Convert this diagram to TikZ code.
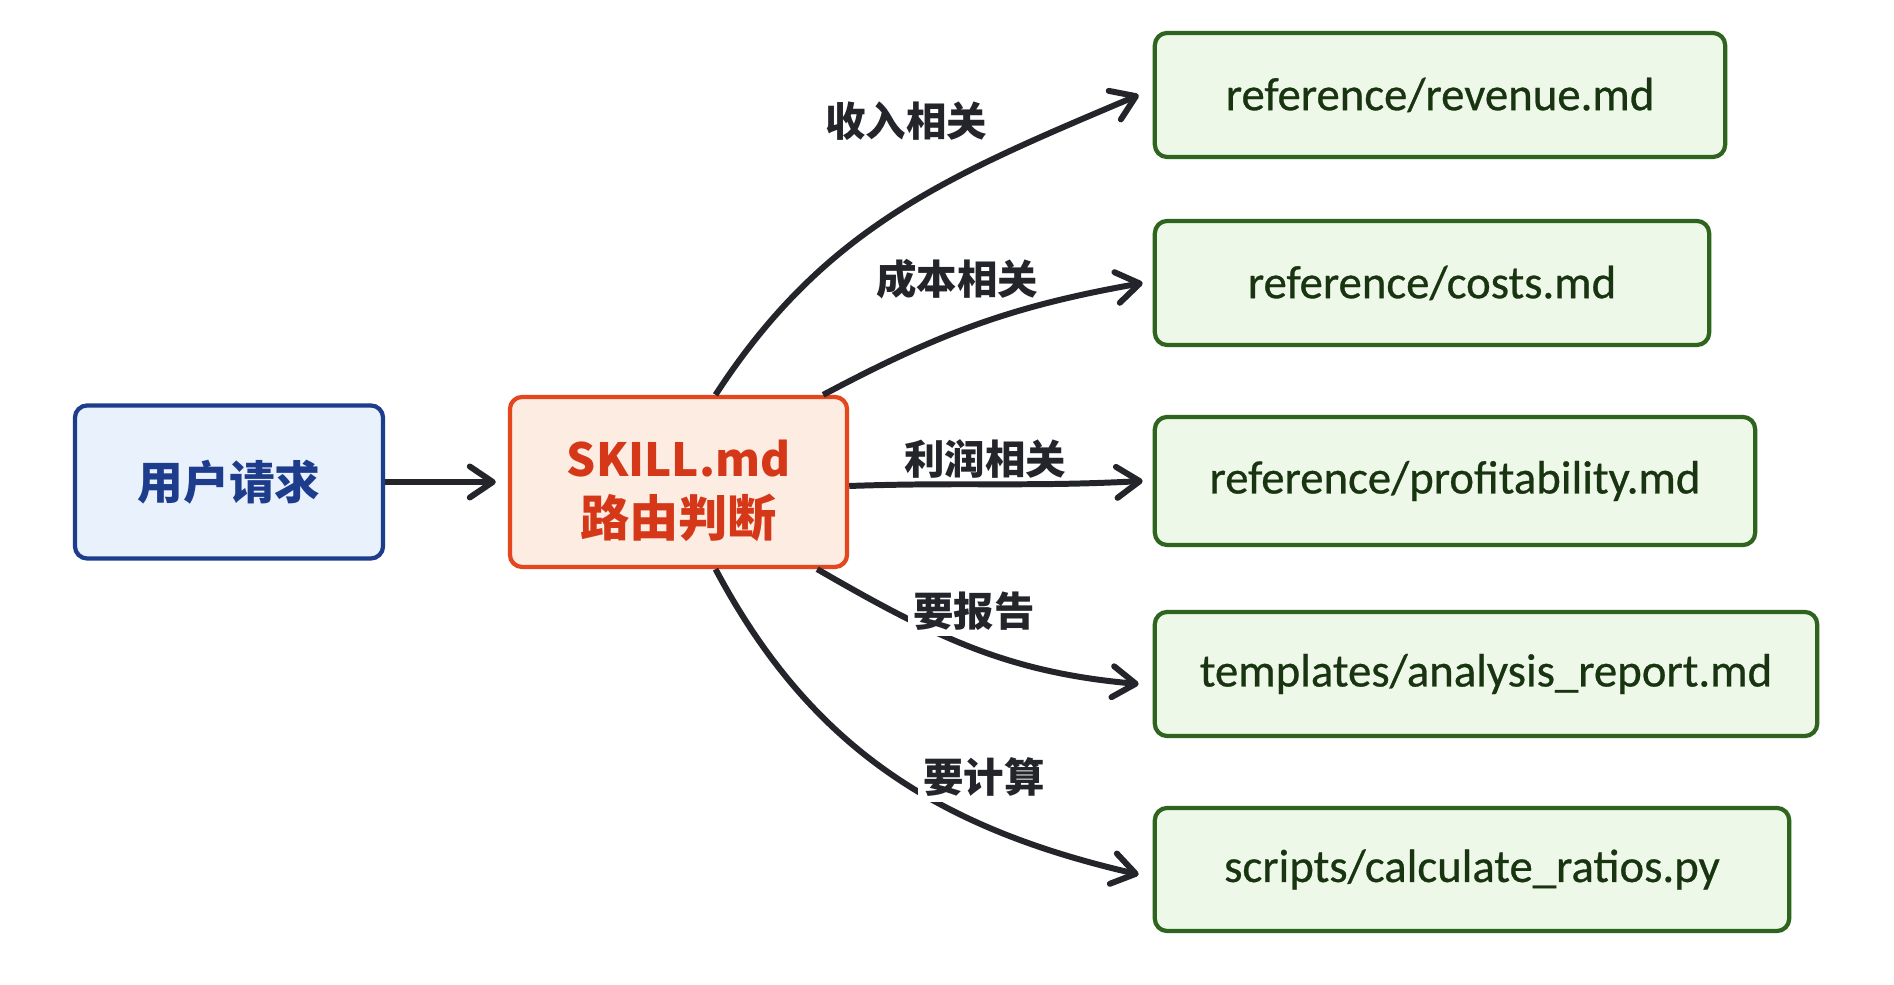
\documentclass[tikz,border=0pt]{standalone}
\usepackage{fontspec}
\setmainfont{Noto Sans CJK SC}
\newfontfamily\filefont{Carlito}[FakeBold=0.6]
\usetikzlibrary{arrows.meta}
\definecolor{userblue}{RGB}{30, 60, 140}
\definecolor{userfill}{RGB}{233, 241, 252}
\definecolor{skillred}{RGB}{228, 70, 30}
\definecolor{skilltext}{RGB}{212, 56, 24}
\definecolor{skillfill}{RGB}{253, 236, 225}
\definecolor{filegreen}{RGB}{46, 100, 30}
\definecolor{filefill}{RGB}{238, 248, 232}
\definecolor{filetext}{RGB}{24, 52, 16}
\definecolor{arrowgray}{RGB}{35, 37, 42}

\tikzset{
  box/.style={draw, rounded corners=3.5pt, line width=1.2pt, inner sep=0pt, align=center},
  userbox/.style={box, draw=userblue, fill=userfill, text=userblue, font=\fontsize{13}{15}\selectfont\bfseries},
  skillbox/.style={box, draw=skillred, fill=skillfill},
  skilllabel/.style={inner sep=0pt, align=center, text=skilltext, font=\fontsize{13}{17}\selectfont\bfseries},
  filebox/.style={box, draw=filegreen, fill=filefill, text=filetext, minimum height=1.24cm, font=\fontsize{13.3}{15}\filefont},
  route/.style={-{Straight Barb[length=2.3mm, width=3.1mm, round]}, line width=1.7pt, draw=arrowgray},
  tag/.style={inner sep=1.5pt, text=arrowgray, font=\fontsize{11.5}{13}\selectfont\bfseries},
  cuttag/.style={tag, fill=white},
}

\begin{document}
\begin{tikzpicture}[x=0.01cm, y=0.01cm]
  \useasboundingbox[fill=white] (0, 0) rectangle (1894, 985);

  % Request and router
  \node[userbox, minimum width=3.08cm, minimum height=1.53cm] (user) at (229, 503) {用户请求};
  \node[skillbox, minimum width=3.37cm, minimum height=1.70cm] (skill) at (678.5, 503) {};
  \node[skilllabel] (skilltxt) at ([yshift=-0.085cm]skill.center) {SKILL.md\\{\fontsize{14}{17}\selectfont 路由判断}};

  % Target files
  \node[filebox, minimum width=5.70cm] (rev) at (1440, 890) {reference/revenue.md};
  \node[filebox, minimum width=5.54cm] (cost) at (1432, 702) {reference/costs.md};
  \node[filebox, minimum width=6.00cm, minimum height=1.28cm] (prof) at (1455, 504) {reference/profitability.md};
  \node[filebox, minimum width=6.62cm] (tmpl) at (1486, 311) {templates/analysis\_report.md};
  \node[filebox, minimum width=6.34cm, minimum height=1.23cm] (scr) at (1472, 115.5) {scripts/calculate\_ratios.py};

  % Connectors
  \draw[route] (user.east) -- ([xshift=-0.12cm]skill.west);
  \draw[route] ([xshift=0.37cm]skill.north) to[out=57, in=203] ([xshift=-0.14cm]rev.west);
  \draw[route] ([xshift=-0.26cm]skill.north east) to[out=28, in=190] ([xshift=-0.10cm]cost.west);
  \draw[route] ([yshift=-0.04cm]skill.east) to[out=2, in=183] ([xshift=-0.10cm]prof.west);
  \draw[route] ([xshift=-0.32cm]skill.south east) to[out=-30, in=175] ([xshift=-0.14cm, yshift=-0.10cm]tmpl.west);
  \draw[route] ([xshift=0.37cm]skill.south) to[out=-62, in=167] ([xshift=-0.14cm, yshift=-0.05cm]scr.west);

  % Route labels
  \node[tag] (revtag) at (906, 864) {收入相关};
  \node[tag] (costtag) at (957, 706) {成本相关};
  \node[tag] (proftag) at (985, 526) {利润相关};
  \node[cuttag] (tmpltag) at (974, 374) {要报告};
  \node[cuttag] (scrtag) at (984, 208) {要计算};
\end{tikzpicture}
\end{document}
